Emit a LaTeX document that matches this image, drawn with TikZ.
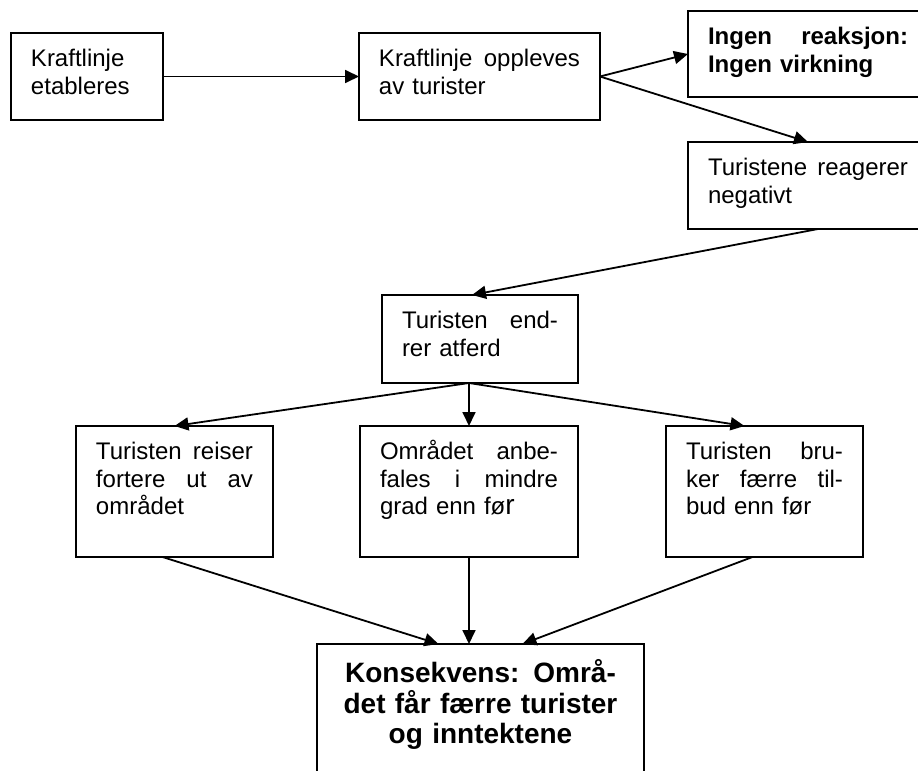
\documentclass[tikz,border=0pt]{standalone}
\usepackage{fontspec}
\setmainfont{Liberation Sans}
\usetikzlibrary{arrows.meta}

\begin{document}
\begin{tikzpicture}[x=0.5pt,y=-0.5pt,>={Triangle[length=7pt,width=6.5pt]},line width=0.9pt,
				boks/.style={draw,anchor=north west,outer sep=0pt,inner xsep=10pt,inner ysep=8pt,
					text height=8.8pt,align=left,font=\fontsize{12}{13.8}\selectfont},
				fet/.style={font=\fontsize{12}{13.8}\selectfont\bfseries}]
				\path[use as bounding box] (0,0) rectangle (918,771);
				\clip (0,0) rectangle (918,771);
				\node[boks,text width=56pt,text depth=18.7pt] (etabl) at (11,33)
					{Kraftlinje\\etableres};
				\node[boks,text width=100.5pt,text depth=18.7pt] (opplev) at (359,33)
					{Kraftlinje\hfill oppleves\\av turister};
				\node[boks,fet,text width=100pt,text depth=18.2pt] (ingen) at (688,11)
					{Ingen\hfill reaksjon:\\Ingen virkning};
				\node[boks,text width=100pt,text depth=18.7pt] (neg) at (688,142)
					{Turistene\hfill reagerer\\negativt};
				\node[boks,text width=78pt,text depth=19.2pt] (atferd) at (382,295)
					{Turisten\hfill end-\\rer atferd};
				\node[boks,text width=78.5pt,text depth=40.7pt] (reiser) at (76,426)
					{Turisten\hfill reiser\\fortere\hfill ut\hfill av\\området};
				\node[boks,text width=89pt,text depth=40.7pt] (anbef) at (360,426)
					{Området\hfill anbe-\\fales\hfill i\hfill mindre\\grad enn fø{\fontsize{14}{14}\selectfont r}};
				\node[boks,text width=78.5pt,text depth=40.7pt] (tilbud) at (666,426)
					{Turisten\hfill bru-\\ker\hfill færre\hfill til-\\bud enn før};
				\node[boks,align=center,inner ysep=8.5pt,text height=10.5pt,text width=143.5pt,text depth=50.5pt,
					font=\fontsize{14}{15.5}\selectfont\bfseries] (konsek) at (317,644)
					{Konsekvens: Områ-\\det får færre turister\\og inntektene};
				
				\draw[->] (etabl) -- (opplev);
				\foreach \m in {ingen.west,neg.north}
					{\draw[->] (opplev.east) -- (\m);}
				\draw[->] ([xshift=5pt]neg.south) -- ([xshift=-4pt]atferd.north);
				\foreach \m in {reiser.north,anbef.north}
					{\draw[->] (atferd.south -| anbef.north) -- (\m);}
				\draw[->] (atferd.south -| anbef.north) -- ([xshift=-10pt]tilbud.north);
				\draw[->] ([xshift=-6pt]reiser.south) -- ([xshift=-21pt]konsek.north);
				\draw[->] (anbef.south) -- (anbef.south |- konsek.north);
				\draw[->] ([xshift=-6pt]tilbud.south) -- ([xshift=21pt]konsek.north);
			\end{tikzpicture}
\end{document}
